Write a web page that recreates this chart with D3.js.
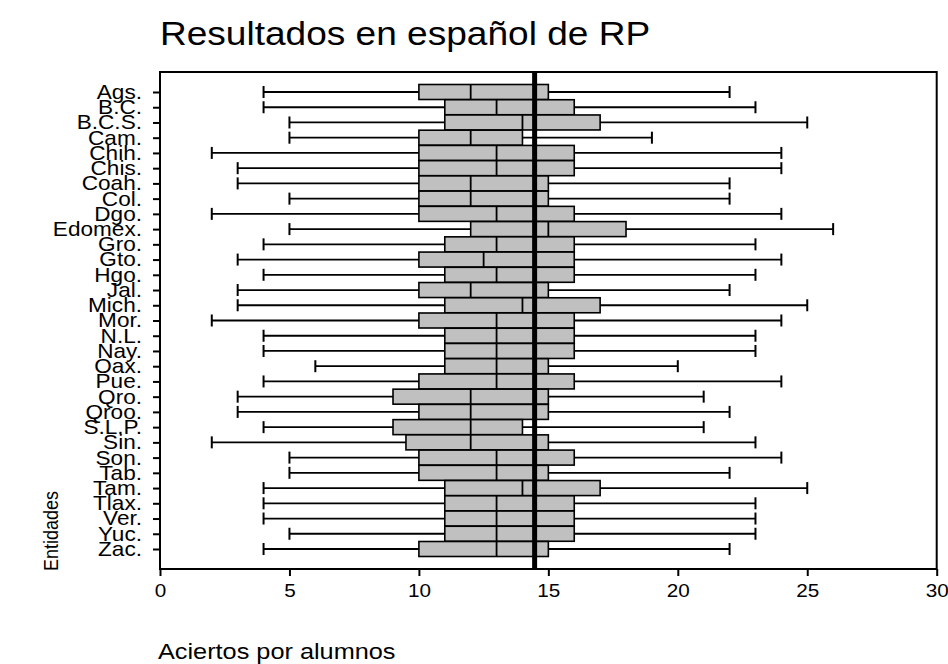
<!DOCTYPE html>
<html>
<head>
<meta charset="utf-8">
<script src="https://cdn.jsdelivr.net/npm/d3@7"></script>
<style>
  html, body { margin: 0; padding: 0; background: #ffffff; }
  svg { display: block; font-family: "Liberation Sans", Arial, Helvetica, sans-serif; }
</style>
</head>
<body>
<svg id="chart" width="948" height="664"></svg>
<script>
// Entidades federativas, de arriba hacia abajo
const entidades = ["Ags.", "B.C.", "B.C.S.", "Cam.", "Chih.", "Chis.", "Coah.", "Col.", "Dgo.", "Edomex.",
  "Gro.", "Gto.", "Hgo.", "Jal.", "Mich.", "Mor.", "N.L.", "Nay.", "Oax.", "Pue.",
  "Qro.", "Qroo.", "S.L.P.", "Sin.", "Son.", "Tab.", "Tam.", "Tlax.", "Ver.", "Yuc.", "Zac."];

// Resumen de cinco números por entidad (aciertos)
const bigoteInf = [4, 4, 5, 5, 2, 3, 3, 5, 2, 5, 4, 3, 4, 3, 3, 2, 4, 4, 6, 4, 3, 3, 4, 2, 5, 5, 4, 4, 4, 5, 4];
const cuartil1  = [10, 11, 11, 10, 10, 10, 10, 10, 10, 12, 11, 10, 11, 10, 11, 10, 11, 11, 11, 10, 9, 10, 9, 9.5, 10, 10, 11, 11, 11, 11, 10];
const mediana   = [12, 13, 14, 12, 13, 13, 12, 12, 13, 15, 13, 12.5, 13, 12, 14, 13, 13, 13, 13, 13, 12, 12, 12, 12, 13, 13, 14, 13, 13, 13, 13];
const cuartil3  = [15, 16, 17, 14, 16, 16, 15, 15, 16, 18, 16, 16, 16, 15, 17, 16, 16, 16, 15, 16, 15, 15, 14, 15, 16, 15, 17, 16, 16, 16, 15];
const bigoteSup = [22, 23, 25, 19, 24, 24, 22, 22, 24, 26, 23, 24, 23, 22, 25, 24, 23, 23, 20, 24, 21, 22, 21, 23, 24, 22, 25, 23, 23, 23, 22];

// Media nacional
const mediaNacional = 14.47;

const xTicks = [0, 5, 10, 15, 20, 25, 30];

const titulo = "Resultados en español de RP";
const etiquetaX = "Aciertos por alumnos";
const etiquetaY = "Entidades";

const datos = entidades.map((e, i) => ({
  entidad: e, lo: bigoteInf[i], q1: cuartil1[i], med: mediana[i], q3: cuartil3[i], hi: bigoteSup[i]
}));

const svg = d3.select("#chart");
const frame = { left: 160, right: 936.7, top: 72, bottom: 569 };
const ensanche = 1.13; // texto algo ensanchado horizontalmente

const x = d3.scaleLinear().domain([0, 30]).range([frame.left, frame.right]);
const y = d3.scalePoint().domain(entidades).range([92, 549]);

const boxH = 15;
const capH = 12;

// Título
svg.append("text")
  .attr("transform", "translate(160,45) scale(1.09,1)")
  .attr("font-size", 34)
  .attr("fill", "#000")
  .text(titulo);

// Cajas y bigotes
const g = svg.append("g");
const filas = g.selectAll("g.fila").data(datos).join("g").attr("class", "fila");

filas.append("line")
  .attr("x1", d => x(d.lo)).attr("x2", d => x(d.q1))
  .attr("y1", d => y(d.entidad)).attr("y2", d => y(d.entidad))
  .attr("stroke", "#000").attr("stroke-width", 1.8);
filas.append("line")
  .attr("x1", d => x(d.q3)).attr("x2", d => x(d.hi))
  .attr("y1", d => y(d.entidad)).attr("y2", d => y(d.entidad))
  .attr("stroke", "#000").attr("stroke-width", 1.8);
filas.append("line")
  .attr("x1", d => x(d.lo)).attr("x2", d => x(d.lo))
  .attr("y1", d => y(d.entidad) - capH / 2).attr("y2", d => y(d.entidad) + capH / 2)
  .attr("stroke", "#000").attr("stroke-width", 2);
filas.append("line")
  .attr("x1", d => x(d.hi)).attr("x2", d => x(d.hi))
  .attr("y1", d => y(d.entidad) - capH / 2).attr("y2", d => y(d.entidad) + capH / 2)
  .attr("stroke", "#000").attr("stroke-width", 2);

filas.append("rect")
  .attr("x", d => x(d.q1))
  .attr("y", d => y(d.entidad) - boxH / 2)
  .attr("width", d => x(d.q3) - x(d.q1))
  .attr("height", boxH)
  .attr("fill", "#c0c0c0")
  .attr("stroke", "#000").attr("stroke-width", 1.6);
filas.append("line")
  .attr("x1", d => x(d.med)).attr("x2", d => x(d.med))
  .attr("y1", d => y(d.entidad) - boxH / 2).attr("y2", d => y(d.entidad) + boxH / 2)
  .attr("stroke", "#000").attr("stroke-width", 1.8);

// Línea de la media nacional
svg.append("line")
  .attr("x1", x(mediaNacional)).attr("x2", x(mediaNacional))
  .attr("y1", frame.top).attr("y2", frame.bottom)
  .attr("stroke", "#000").attr("stroke-width", 5);

// Marco del área de trazado
svg.append("rect")
  .attr("x", frame.left).attr("y", frame.top)
  .attr("width", frame.right - frame.left).attr("height", frame.bottom - frame.top)
  .attr("fill", "none").attr("stroke", "#000").attr("stroke-width", 2);

// Eje X
const ejeX = svg.append("g")
  .attr("transform", `translate(0,${frame.bottom})`)
  .call(d3.axisBottom(x).tickValues(xTicks).tickFormat(d3.format("d")).tickSize(7).tickPadding(8));
ejeX.select(".domain").remove();
ejeX.selectAll("line").attr("stroke", "#000").attr("stroke-width", 2);
ejeX.selectAll("text")
  .attr("font-size", 18).attr("fill", "#000")
  .attr("font-family", "Liberation Sans, Arial, sans-serif")
  .attr("transform", "scale(1.15,1)");

// Eje Y
const ejeY = svg.append("g")
  .attr("transform", `translate(${frame.left},0)`)
  .call(d3.axisLeft(y).tickSize(7).tickPadding(11));
ejeY.select(".domain").remove();
ejeY.selectAll("line").attr("stroke", "#000").attr("stroke-width", 2);
ejeY.selectAll("text")
  .attr("font-size", 20).attr("fill", "#000")
  .attr("font-family", "Liberation Sans, Arial, sans-serif")
  .attr("x", 0)
  .attr("transform", `translate(-18,0) scale(${ensanche},1)`);

// Títulos de los ejes
svg.append("text")
  .attr("transform", "translate(158,659) scale(1.15,1)")
  .attr("font-size", 22)
  .attr("fill", "#000")
  .text(etiquetaX);

svg.append("text")
  .attr("transform", `translate(58,571) rotate(-90) scale(1,${ensanche})`)
  .attr("font-size", 18)
  .attr("fill", "#000")
  .text(etiquetaY);
</script>
</body>
</html>
